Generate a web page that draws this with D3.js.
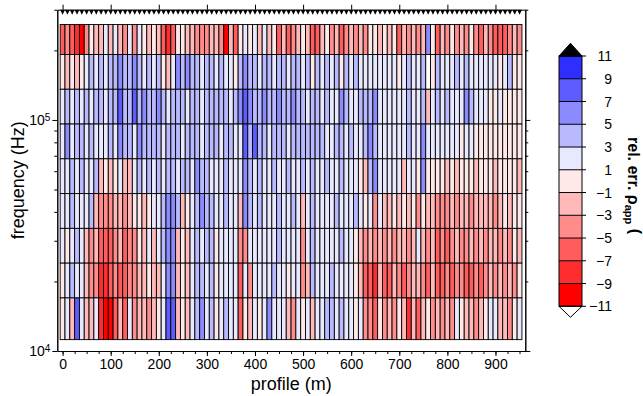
<!DOCTYPE html>
<html>
<head>
<meta charset="utf-8">
<script src="https://cdn.jsdelivr.net/npm/d3@7/dist/d3.min.js"></script>
<style>
body { margin: 0; background: #fff; }
text { font-family: "Liberation Sans", Arial, sans-serif; }
</style>
</head>
<body>
<div id="chart"></div>
<script>
// stations along the profile (m)
var stations = [0,10,20,30,40,50,60,70,80,90,100,110,120,130,140,150,160,170,180,190,
    200,210,220,230,240,250,260,270,280,290,300,310,320,330,340,350,360,370,380,390,
    400,410,420,430,440,450,460,470,480,490,500,510,520,530,540,550,560,570,580,590,
    600,610,620,630,640,650,660,670,680,690,700,710,720,730,740,750,760,770,780,790,
    800,810,820,830,840,850,860,870,880,890,900,910,920,930,940,950];

// frequency cell edges (Hz), top row first
var rowEdgesHz = [259000, 192000, 135760, 96000, 67880, 48000, 33940, 24000, 16970, 11200];

// relative error of apparent resistivity (%), one list per frequency row (top -> bottom)
var errRow1 = [-6,-4,-6,-8,-10,-4,0,-2,-2,2,-2,2,-2,-4,2,-4,2,0,-2,0,-2,-6,-8,-6,0,0,-2,-2,-4,-4,-4,-2,
    -2,-4,-10,-2,-6,0,2,0,2,-2,2,-2,0,-6,-2,-6,-4,-2,0,-2,-6,-6,-2,0,-4,-2,-6,-4,-2,-4,-2,-4,
    0,0,-2,0,-2,0,-6,-2,-4,-2,-4,-2,6,0,-6,-2,-4,0,-4,-2,-4,0,-4,-6,-2,-4,-6,-6,-6,-4,-2,-4];
var errRow2 = [0,-2,0,-2,0,2,4,2,4,2,4,4,6,4,4,6,4,2,4,2,4,0,-2,2,6,4,6,4,4,2,4,4,
    2,4,2,2,0,4,6,4,4,2,4,4,2,4,4,2,4,4,2,4,0,4,2,4,2,4,0,4,2,4,2,2,
    2,2,2,2,2,2,0,2,4,2,2,4,null,0,4,2,2,2,4,2,4,2,2,2,2,2,2,0,2,4,0,0];
var errRow3 = [2,4,2,4,2,4,2,4,4,2,4,4,8,4,4,8,4,6,4,4,6,4,2,4,4,4,2,4,4,2,4,4,
    4,4,4,2,4,6,8,6,4,4,6,4,4,6,4,4,6,4,4,2,4,4,2,4,2,2,6,4,2,2,4,4,
    4,6,2,2,2,2,2,2,4,2,2,4,-2,2,4,2,4,2,2,2,6,4,2,2,2,0,0,2,0,0,0,0];
var errRow4 = [2,6,2,4,4,2,4,2,2,2,4,2,6,4,4,2,6,4,4,4,4,2,4,4,4,2,4,4,4,2,4,4,
    4,2,4,4,2,2,8,4,8,4,4,2,4,4,4,2,4,4,4,4,4,4,4,2,2,4,4,2,4,2,2,4,
    6,4,2,2,2,2,2,2,4,2,2,6,2,2,2,2,2,2,2,0,2,2,0,0,0,0,0,0,0,0,0,0];
var errRow5 = [2,2,4,2,4,2,2,4,-2,0,-2,0,2,-2,-2,2,4,2,4,2,4,2,4,4,2,4,4,2,6,4,4,2,
    2,2,4,2,2,2,6,4,2,4,2,2,4,2,2,4,2,2,4,2,4,2,2,4,2,2,4,2,2,2,0,-2,
    4,6,2,2,2,2,2,-2,2,2,0,6,0,0,0,0,-2,0,-2,0,0,0,-2,0,0,0,-2,0,0,0,0,-2];
var errRow6 = [2,2,4,2,2,2,4,-2,-4,-4,-4,-2,-2,-4,-2,0,0,-2,0,2,2,4,6,6,4,-2,0,2,4,6,4,4,
    2,2,4,2,2,-2,6,4,2,4,2,2,2,4,2,2,4,2,-2,2,4,2,2,2,2,4,2,2,2,4,2,0,
    2,-4,2,-2,-2,0,-2,0,-2,0,-4,0,-2,-2,-4,-4,-4,-2,-4,-2,-2,-4,-2,-2,-2,-2,-4,-2,0,-2,0,0];
var errRow7 = [2,0,2,4,2,-2,-4,-2,-6,-6,-6,-4,-2,-6,-4,-4,0,-2,2,-2,2,4,6,6,-2,0,-2,2,4,2,4,4,
    0,2,2,2,2,-4,-4,2,2,2,2,2,2,4,2,2,2,2,-4,2,4,2,2,2,2,2,4,2,2,0,-2,-4,
    -2,-4,-2,-4,-2,-4,-2,-2,-4,-2,2,-2,-4,-2,-6,-4,-6,-4,-2,-4,-4,-2,-4,-2,-4,-2,-2,-4,-2,-4,0,-2];
var errRow8 = [0,2,4,2,2,-2,-4,-4,-8,-8,-6,-4,-6,-6,-4,-4,-2,-2,0,-2,-2,2,6,6,-2,0,-2,2,4,4,2,4,
    0,2,2,2,2,-6,2,-4,2,2,2,2,4,2,2,0,2,2,-4,-2,4,2,2,2,4,2,2,2,2,0,-2,-6,
    -6,-8,-2,-6,-6,-2,-4,-6,-4,-2,-2,-4,-6,-2,-6,-6,-4,-6,-4,-4,-6,-6,-4,-6,-4,-2,-4,-2,-4,-2,-4,0];
var errRow9 = [0,2,-2,8,2,-2,-2,2,-8,-10,-10,-6,-2,-6,2,-4,-2,-2,-4,-2,0,2,8,8,-2,0,-2,2,4,6,2,4,
    0,2,4,2,2,-6,0,-2,2,0,2,6,2,2,2,-2,-4,2,0,2,-2,2,2,4,4,2,4,2,2,0,2,-4,
    -4,-6,0,-4,-2,-4,0,-2,-8,-2,-6,-2,0,-4,-2,-4,-2,-4,2,0,-2,-2,-4,-2,0,2,2,-2,-2,-4,0,2];

var errRows = [errRow1, errRow2, errRow3, errRow4, errRow5, errRow6, errRow7, errRow8, errRow9];

// colour classes
var classBreaks = [-11,-9,-7,-5,-3,-1,1,3,5,7,9,11];
var classColors = ["#ff0000","#ff2e2e","#ff5d5d","#ff8b8b","#ffb9b9","#ffe8e8",
    "#e8e8ff","#b9b9ff","#8b8bff","#5d5dff","#2e2eff"];
var cbLabels = ["\u221211","\u22129","\u22127","\u22125","\u22123","\u22121","1","3","5","7","9","11"];

var xTicks = [0,100,200,300,400,500,600,700,800,900];
var yMajor = [1e4, 1e5];

var width = 643;
var height = 396;

var x = d3.scaleLinear().domain([-11, 962]).range([57.3, 525.3]);
var y = d3.scaleLog().domain([1e4, 3e5]).range([351, 9.7]);

var colors = d3.scaleThreshold()
    .domain(classBreaks.slice(1, -1))
    .range(classColors);

var svg = d3.select("#chart")
    .append("svg")
    .attr("width", width)
    .attr("height", height);

// grid cells
var cells = [];
errRows.forEach(function (row, i) {
    row.forEach(function (v, j) {
        cells.push({ s: stations[j], top: rowEdgesHz[i], bot: rowEdgesHz[i + 1], v: v });
    });
});

svg.append("g")
    .selectAll("rect")
    .data(cells)
    .enter()
    .append("rect")
    .attr("x", function (d) { return x(d.s - 5); })
    .attr("width", function (d) { return x(d.s + 5) - x(d.s - 5); })
    .attr("y", function (d) { return y(d.top); })
    .attr("height", function (d) { return y(d.bot) - y(d.top); })
    .attr("fill", function (d) { return d.v === null ? "#ffffff" : colors(d.v); })
    .attr("stroke", "#000")
    .attr("stroke-width", 0.9);

// station triangles
svg.append("g")
    .selectAll("path")
    .data(stations)
    .enter()
    .append("path")
    .attr("d", function (d) {
        var y0 = y.range()[1];
        return "M" + x(d - 5) + "," + y0 + "L" + x(d + 5) + "," + y0 + "L" + x(d) + "," + (y0 + 5) + "Z";
    })
    .attr("fill", "#000");

// axes
var minorX = d3.range(0, 951, 25);
var yMinor = y.ticks().filter(function (t) { return yMajor.indexOf(t) < 0; });

function styleAxis(g) {
    g.selectAll("path.domain").attr("stroke", "#000").attr("stroke-width", 1);
    g.selectAll(".tick line").attr("stroke", "#000");
    g.selectAll("text").style("font-size", "14px").attr("fill", "#000")
        .style("font-family", '"Liberation Sans", Arial, sans-serif');
}

var xAxisMinor = svg.append("g")
    .attr("transform", "translate(0," + y.range()[0] + ")")
    .call(d3.axisBottom(x).tickValues(minorX).tickSize(3).tickSizeOuter(0).tickFormat(""));
styleAxis(xAxisMinor);

var xAxis = svg.append("g")
    .attr("transform", "translate(0," + y.range()[0] + ")")
    .call(d3.axisBottom(x).tickValues(xTicks).tickSize(5).tickSizeOuter(0).tickPadding(3));
styleAxis(xAxis);

var xTop = svg.append("g")
    .attr("transform", "translate(0," + y.range()[1] + ")")
    .call(d3.axisTop(x).tickValues(xTicks).tickSize(5).tickSizeOuter(0).tickFormat(""));
styleAxis(xTop);

var yAxisMinor = svg.append("g")
    .attr("transform", "translate(" + x.range()[0] + ",0)")
    .call(d3.axisLeft(y).tickValues(yMinor).tickSize(3).tickSizeOuter(0).tickFormat(""));
styleAxis(yAxisMinor);

var yAxis = svg.append("g")
    .attr("transform", "translate(" + x.range()[0] + ",0)")
    .call(d3.axisLeft(y).tickValues(yMajor).tickSize(5).tickSizeOuter(0).tickFormat(""));
styleAxis(yAxis);

yAxis.selectAll(".tick").append("text")
    .attr("x", -7)
    .attr("dy", "0.35em")
    .attr("text-anchor", "end")
    .style("font-size", "14px")
    .attr("fill", "#000")
    .each(function (d) {
        var t = d3.select(this);
        t.append("tspan").text("10");
        t.append("tspan").attr("dy", "-0.45em").style("font-size", "10px").text(Math.round(Math.log10(d)));
    });

var yRightMinor = svg.append("g")
    .attr("transform", "translate(" + x.range()[1] + ",0)")
    .call(d3.axisRight(y).tickValues(yMinor).tickSize(3).tickSizeOuter(0).tickFormat(""));
styleAxis(yRightMinor);

var yRight = svg.append("g")
    .attr("transform", "translate(" + x.range()[1] + ",0)")
    .call(d3.axisRight(y).tickValues(yMajor).tickSize(5).tickSizeOuter(0).tickFormat(""));
styleAxis(yRight);

// axis labels
svg.append("text")
    .attr("x", (x.range()[0] + x.range()[1]) / 2)
    .attr("y", 390)
    .attr("text-anchor", "middle")
    .style("font-size", "18px")
    .text("profile (m)");

svg.append("text")
    .attr("transform", "translate(24," + (y.range()[0] + y.range()[1]) / 2 + ") rotate(-90)")
    .attr("text-anchor", "middle")
    .style("font-size", "18px")
    .text("frequency (Hz)");

// colour bar
var cbX = 559, cbW = 23;
var cbY = d3.scaleLinear().domain([-11, 11]).range([306.3, 56]);
var cb = svg.append("g");

cb.selectAll("rect")
    .data(classColors)
    .enter()
    .append("rect")
    .attr("x", cbX)
    .attr("width", cbW)
    .attr("y", function (d, i) { return cbY(classBreaks[i + 1]); })
    .attr("height", function (d, i) { return cbY(classBreaks[i]) - cbY(classBreaks[i + 1]); })
    .attr("fill", function (d) { return d; });

cb.append("rect")
    .attr("x", cbX).attr("y", cbY(11))
    .attr("width", cbW).attr("height", cbY(-11) - cbY(11))
    .attr("fill", "none").attr("stroke", "#000").attr("stroke-width", 1);

// over / under triangles
cb.append("path")
    .attr("d", "M" + cbX + "," + cbY(11) + "L" + (cbX + cbW) + "," + cbY(11) + "L" + (cbX + cbW / 2) + "," + (cbY(11) - 12.7) + "Z")
    .attr("fill", "#000").attr("stroke", "#000");
cb.append("path")
    .attr("d", "M" + cbX + "," + cbY(-11) + "L" + (cbX + cbW) + "," + cbY(-11) + "L" + (cbX + cbW / 2) + "," + (cbY(-11) + 11) + "Z")
    .attr("fill", "#fff").attr("stroke", "#000");

cb.selectAll("line.brk")
    .data(classBreaks)
    .enter()
    .append("line")
    .attr("class", "brk")
    .attr("x1", cbX).attr("x2", cbX + cbW + 4)
    .attr("y1", function (d) { return cbY(d); })
    .attr("y2", function (d) { return cbY(d); })
    .attr("stroke", "#000").attr("stroke-width", 1);

cb.selectAll("text.lbl")
    .data(classBreaks)
    .enter()
    .append("text")
    .attr("class", "lbl")
    .attr("x", 612)
    .attr("y", function (d) { return cbY(d); })
    .attr("dy", "0.36em")
    .attr("text-anchor", "end")
    .style("font-size", "14px")
    .text(function (d, i) { return cbLabels[i]; });

var cbTitle = svg.append("text")
    .attr("transform", "translate(628,137) rotate(90)")
    .style("font-size", "16px")
    .style("font-weight", "bold");
cbTitle.append("tspan").text("rel. err. \u03c1");
cbTitle.append("tspan").attr("dy", "0.3em").style("font-size", "11px").text("app");
cbTitle.append("tspan").attr("dy", "-0.3em").text(" (");
</script>
</body>
</html>
